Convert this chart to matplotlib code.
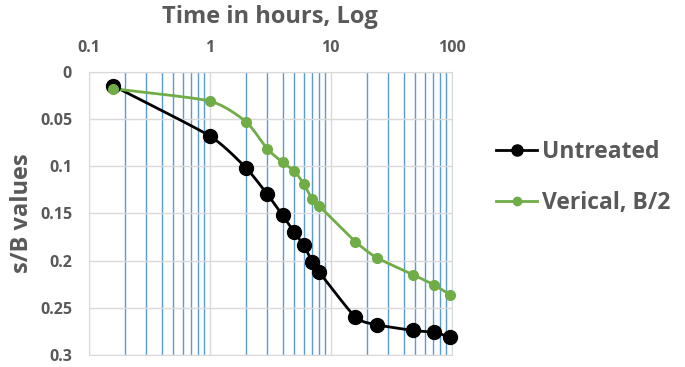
import numpy as np
import matplotlib.pyplot as plt
from matplotlib.ticker import LogLocator, FixedLocator, NullFormatter

# data
hours = [0.16, 1, 2, 3, 4, 5, 6, 7, 8, 16, 24, 48, 72, 96]
untreated = [0.015, 0.068, 0.102, 0.130, 0.152, 0.170, 0.184, 0.201, 0.212, 0.260, 0.268, 0.274, 0.276, 0.281]
vertical = [0.018, 0.031, 0.053, 0.082, 0.096, 0.105, 0.119, 0.135, 0.142, 0.180, 0.197, 0.215, 0.226, 0.236]
x_ticks = [0.1, 1, 10, 100]
x_ticklabels = ["0.1", "1", "10", "100"]
y_ticks = [0, 0.05, 0.1, 0.15, 0.2, 0.25, 0.3]
y_ticklabels = ["0", "0.05", "0.1", "0.15", "0.2", "0.25", "0.3"]

GREY = "#595959"
FONT = ["Open Sans", "DejaVu Sans"]
plt.rcParams['font.family'] = FONT


def smooth(xs, ys, n=20):
    # catmull-rom through the points, in log-x space (like excel's smoothed line)
    lx = np.log10(xs)
    ys = np.asarray(ys, float)
    px = np.concatenate([[2 * lx[0] - lx[1]], lx, [2 * lx[-1] - lx[-2]]])
    py = np.concatenate([[2 * ys[0] - ys[1]], ys, [2 * ys[-1] - ys[-2]]])
    outx, outy = [], []
    t = np.linspace(0, 1, n)
    for i in range(1, len(px) - 2):
        m0x = (px[i + 1] - px[i - 1]) / 2 * 0.6
        m1x = (px[i + 2] - px[i]) / 2 * 0.6
        m0y = (py[i + 1] - py[i - 1]) / 2 * 0.6
        m1y = (py[i + 2] - py[i]) / 2 * 0.6
        h00 = 2 * t**3 - 3 * t**2 + 1
        h10 = t**3 - 2 * t**2 + t
        h01 = -2 * t**3 + 3 * t**2
        h11 = t**3 - t**2
        outx.extend(h00 * px[i] + h10 * m0x + h01 * px[i + 1] + h11 * m1x)
        outy.extend(h00 * py[i] + h10 * m0y + h01 * py[i + 1] + h11 * m1y)
    return 10 ** np.array(outx), np.array(outy)


fig = plt.figure(figsize=(6.85, 3.67), dpi=100)
ax = fig.add_axes([0.1295, 0.0327, 0.53, 0.7719])

ax.set_xscale("log")
ax.set_xlim(0.1, 100)
ax.set_ylim(0.3, 0)

sx, sy = smooth(hours, untreated)
ax.plot(sx, sy, color="black", lw=2, zorder=3, clip_on=False)
ax.plot(hours, untreated, "o", color="black", ms=10, zorder=4, clip_on=False)
gx, gy = smooth(hours, vertical)
ax.plot(gx, gy, color="#70AD47", lw=2, zorder=3, clip_on=False)
ax.plot(hours, vertical, "o", color="#70AD47", ms=7, zorder=4, clip_on=False)

# legend handles
h1, = ax.plot([], [], "-o", color="black", lw=2, ms=8, label="Untreated")
h2, = ax.plot([], [], "-o", color="#70AD47", lw=2, ms=6, label="Verical, B/2")

ax.xaxis.set_major_locator(FixedLocator(x_ticks))
ax.set_xticklabels(x_ticklabels)
ax.xaxis.set_minor_locator(LogLocator(base=10, subs=np.arange(2, 10)))
ax.xaxis.set_minor_formatter(NullFormatter())
ax.set_yticks(y_ticks)
ax.set_yticklabels(y_ticklabels)

ax.grid(True, which="major", color="#D9D9D9", lw=1, zorder=0)
ax.grid(True, which="minor", axis="x", color="#5B9BD5", lw=1, zorder=1)
ax.set_axisbelow(True)

ax.xaxis.tick_top()
ax.tick_params(axis="both", which="both", length=0, labelcolor=GREY, labelsize=11.5)
ax.tick_params(axis="x", pad=11)
ax.tick_params(axis="y", pad=12)
for lab in ax.get_xticklabels() + ax.get_yticklabels():
    lab.set_fontweight("bold")

for s in ax.spines.values():
    s.set_color("#D9D9D9")

fig.text(0.394, 0.955, "Time in hours, Log", ha="center", va="center",
         fontsize=17, fontweight="bold", color=GREY)
fig.text(0.032, 0.42, "s/B values", ha="center", va="center", rotation=90,
         fontsize=17, fontweight="bold", color=GREY)

leg = ax.legend(handles=[h1, h2], loc="upper left", bbox_to_anchor=(0.711, 0.644),
                bbox_transform=fig.transFigure, frameon=False, handlelength=1.8,
                handletextpad=0.2, labelspacing=1.2, borderaxespad=0,
                prop={"family": FONT, "weight": "bold", "size": 16.5})
for t in leg.get_texts():
    t.set_color(GREY)

fig.savefig("out.png", dpi=100)
